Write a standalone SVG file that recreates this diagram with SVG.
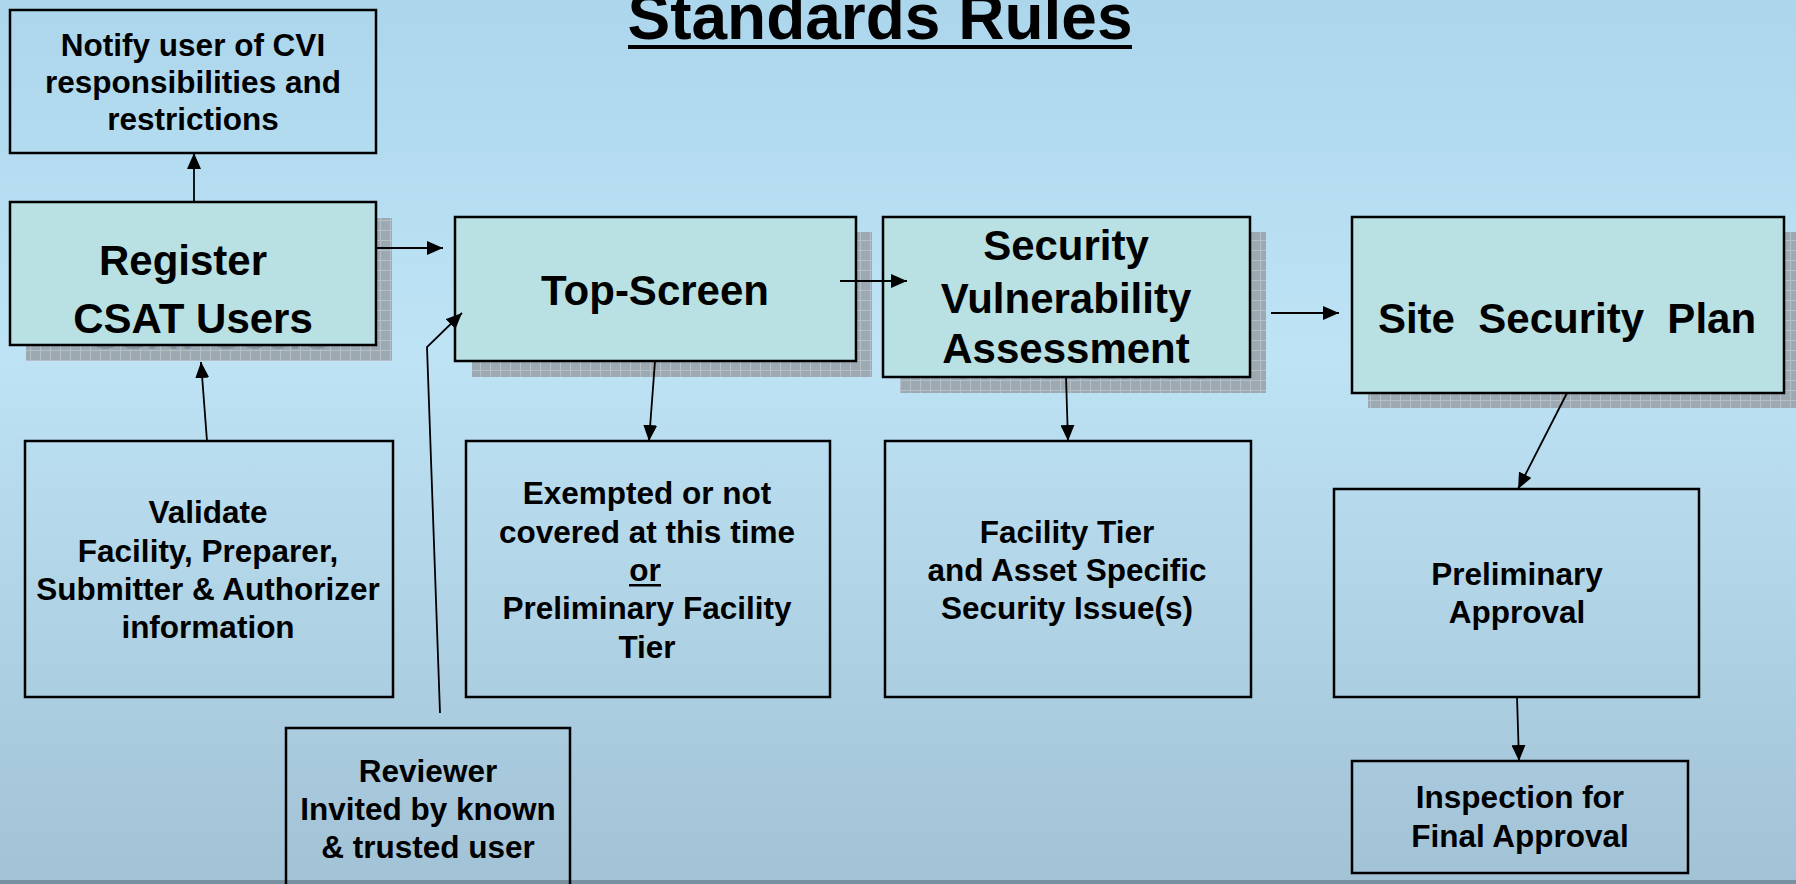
<svg xmlns="http://www.w3.org/2000/svg" width="1796" height="884" viewBox="0 0 1796 884">
<defs>
<linearGradient id="bg" x1="0" y1="0" x2="0" y2="1">
<stop offset="0" stop-color="#acd6ec"/>
<stop offset="0.4" stop-color="#bee3f5"/>
<stop offset="1" stop-color="#a2c2d6"/>
</linearGradient>
<pattern id="hatch" width="10" height="10" patternUnits="userSpaceOnUse">
<rect width="10" height="10" fill="#9ca9b2"/>
<path d="M0,0.5H10M0.5,0V10" stroke="#b4bfc6" stroke-width="1"/>
</pattern>
<marker id="arr" markerWidth="16" markerHeight="14" refX="16" refY="7" orient="auto" markerUnits="userSpaceOnUse">
<path d="M0,0 L16,7 L0,14 z" fill="#000"/>
</marker>
<style>
text{font-family:"Liberation Sans",Arial,sans-serif;font-weight:bold;fill:#000;text-anchor:middle}
.big{font-size:42px}
.sm{font-size:31.5px}
.ghost{fill:#87939c}
.box{fill:none;stroke:#000;stroke-width:2.5}
.main{fill:#b9e0e2;stroke:#000;stroke-width:2.5}
.shadow{fill:url(#hatch)}
.conn{fill:none;stroke:#000;stroke-width:1.8;marker-end:url(#arr)}
</style>
</defs>
<rect width="1796" height="884" fill="url(#bg)"/>
<rect x="0" y="880" width="1796" height="4" fill="#7791a0"/>

<g id="title">
<text x="880" y="39" style="font-size:64px">Standards Rules</text>
<rect x="628" y="45" width="504" height="4" fill="#000"/>
</g>

<g id="notify">
<rect class="box" x="10" y="10" width="366" height="143"/>
<text class="sm" x="193" y="56">Notify user of CVI</text>
<text class="sm" x="193" y="93">responsibilities and</text>
<text class="sm" x="193" y="130">restrictions</text>
</g>

<g id="register">
<rect class="shadow" x="26" y="218" width="366" height="143"/>
<text class="big ghost" x="209" y="349">CSAT Users</text>
<rect class="main" x="10" y="202" width="366" height="143"/>
<text class="big" x="183" y="275">Register</text>
<text class="big" x="193" y="333">CSAT Users</text>
</g>

<g id="topscreen">
<rect class="shadow" x="472" y="232" width="400" height="145"/>
<rect class="main" x="455" y="217" width="401" height="144"/>
<text class="big" x="655" y="305">Top-Screen</text>
</g>

<g id="sva">
<rect class="shadow" x="900" y="232" width="366" height="161"/>
<text class="big ghost" x="1082" y="379">Assessment</text>
<rect class="main" x="883" y="217" width="367" height="160"/>
<text class="big" x="1066" y="260">Security</text>
<text class="big" x="1066" y="313">Vulnerability</text>
<text class="big" x="1066" y="363">Assessment</text>
</g>

<g id="ssp">
<rect class="shadow" x="1368" y="232" width="428" height="176"/>
<rect class="main" x="1352" y="217" width="432" height="176"/>
<text class="big" x="1567" y="333" xml:space="preserve">Site  Security  Plan</text>
</g>

<g id="validate">
<rect class="box" x="25" y="441" width="368" height="256"/>
<text class="sm" x="208" y="523">Validate</text>
<text class="sm" x="208" y="562">Facility, Preparer,</text>
<text class="sm" x="208" y="600">Submitter &amp; Authorizer</text>
<text class="sm" x="208" y="638">information</text>
</g>

<g id="exempted">
<rect class="box" x="466" y="441" width="364" height="256"/>
<text class="sm" x="647" y="504">Exempted or not</text>
<text class="sm" x="647" y="543">covered at this time</text>
<text class="sm" x="645" y="581">or</text>
<rect x="629" y="584" width="32" height="2.5" fill="#000"/>
<text class="sm" x="647" y="619">Preliminary Facility</text>
<text class="sm" x="647" y="658">Tier</text>
</g>

<g id="facilitytier">
<rect class="box" x="885" y="441" width="366" height="256"/>
<text class="sm" x="1067" y="543">Facility Tier</text>
<text class="sm" x="1067" y="581">and Asset Specific</text>
<text class="sm" x="1067" y="619">Security Issue(s)</text>
</g>

<g id="preliminary">
<rect class="box" x="1334" y="489" width="365" height="208"/>
<text class="sm" x="1517" y="585">Preliminary</text>
<text class="sm" x="1517" y="623">Approval</text>
</g>

<g id="inspection">
<rect class="box" x="1352" y="761" width="336" height="112"/>
<text class="sm" x="1520" y="808">Inspection for</text>
<text class="sm" x="1520" y="847">Final Approval</text>
</g>

<g id="reviewer">
<rect class="box" x="286" y="728" width="284" height="170"/>
<text class="sm" x="428" y="782">Reviewer</text>
<text class="sm" x="428" y="820">Invited by known</text>
<text class="sm" x="428" y="858">&amp; trusted user</text>
</g>

<g id="connectors">
<line class="conn" x1="194" y1="202" x2="194" y2="153"/>
<line class="conn" x1="376" y1="248" x2="443" y2="248"/>
<line class="conn" x1="840" y1="281" x2="907" y2="281"/>
<line class="conn" x1="1271" y1="313" x2="1339" y2="313"/>
<line class="conn" x1="207" y1="441" x2="201" y2="362"/>
<line class="conn" x1="655" y1="361" x2="649" y2="441"/>
<line class="conn" x1="1066" y1="377" x2="1068" y2="441"/>
<line class="conn" x1="1567" y1="393" x2="1518" y2="489"/>
<line class="conn" x1="1517" y1="697" x2="1519" y2="761"/>
<polyline class="conn" points="440,713 427,347 462,313"/>
</g>
</svg>
